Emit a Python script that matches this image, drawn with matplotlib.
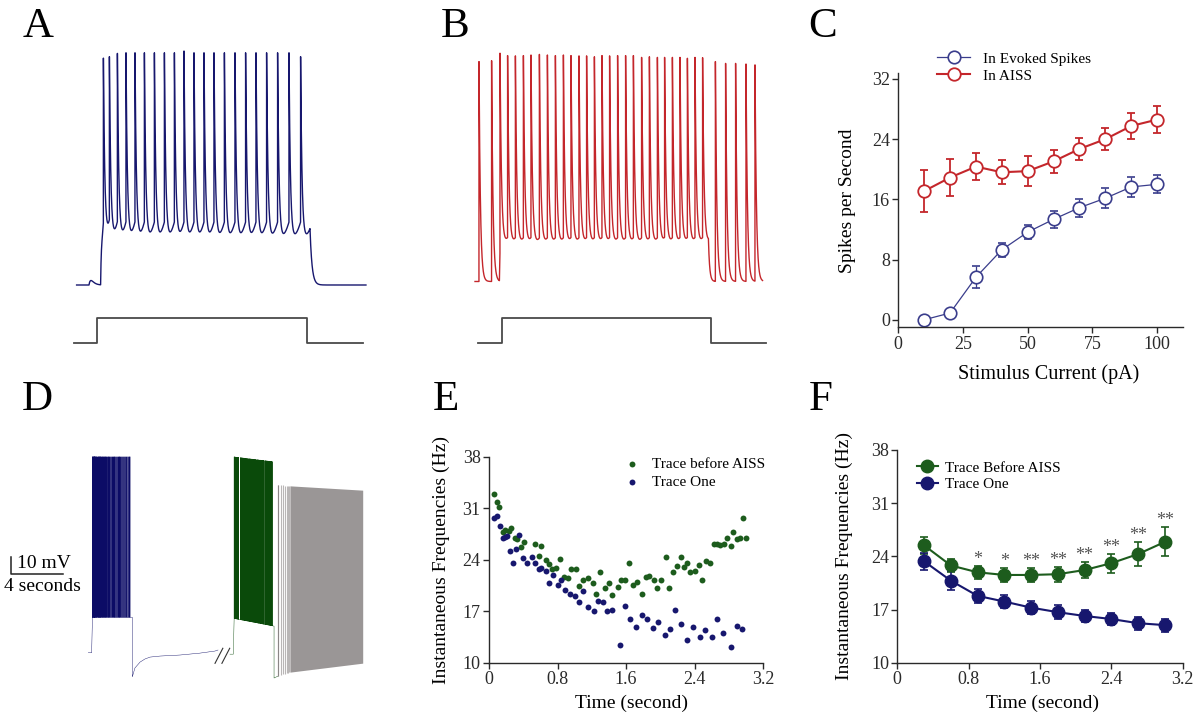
import numpy as np
import matplotlib
matplotlib.use('Agg')
import matplotlib.pyplot as plt

plt.rcParams['font.family'] = ['Liberation Serif', 'DejaVu Serif']

W, H = 1200, 726

# ---------------- data ----------------
# A: evoked firing during the current step (ms, mV)
a_spikes = [167, 197, 237, 280, 325, 372, 422, 472, 522, 570, 620, 670, 720,
            772, 825, 878, 930, 983, 1038, 1095, 1153]
a_peaks = [5.6, 6.1, 7.2, 7.4, 7.4, 7.4, 7.4, 7.4, 7.4, 8.0, 7.4, 7.4, 7.4,
           7.4, 7.4, 7.4, 7.4, 7.4, 7.4, 7.4, 6.1]
a_span = (33, 1480)
a_on, a_off = 153, 1200
a_levels = (-70.0, -55.5, 6.5)     # rest, plateau, ramp
a_stim = (20, 135, 1185, 1465)     # start, on, off, end

# B: firing with AISS before and after the step
b_spikes = [45, 108, 150, 188, 227, 267, 305, 347, 387, 427, 467, 505, 545,
            583, 622, 660, 698, 738, 778, 817, 858, 897, 937, 973, 1012, 1050,
            1087, 1125, 1163, 1227, 1278, 1328, 1380, 1425]
b_peaks = [3.8, 4.1, 6.6, 5.8, 5.7, 5.8, 6.0, 6.2, 6.0, 5.8, 6.0, 5.8, 5.7,
           5.7, 5.4, 5.8, 5.7, 5.8, 5.8, 5.8, 5.2, 5.4, 5.2, 5.2, 5.2, 5.2,
           4.9, 5.2, 5.1, 3.8, 3.2, 3.2, 3.0, 2.7]
b_span = (25, 1463)
b_on, b_off = 147, 1192
b_levels = (-69.5, -57.6, 2.5)
b_stim = (40, 158, 1205, 1480)

# C: spikes per second vs stimulus current
c_current = [10, 20, 30, 40, 50, 60, 70, 80, 90, 100]
c_evoked = [0.0, 0.9, 5.65, 9.3, 11.65, 13.35, 14.9, 16.15, 17.65, 18.0]
c_evoked_err = [0.0, 0.3, 1.45, 0.95, 0.95, 1.15, 1.2, 1.3, 1.35, 1.2]
c_aiss = [17.1, 18.9, 20.35, 19.6, 19.75, 21.05, 22.7, 24.0, 25.75, 26.6]
c_aiss_err = [2.8, 2.5, 1.8, 1.6, 1.95, 1.55, 1.5, 1.5, 1.7, 1.8]

# E: instantaneous frequencies (s, Hz)
e_green_t = [0.06, 0.09, 0.12, 0.16, 0.19, 0.23, 0.26, 0.30, 0.33, 0.37,
             0.41, 0.54, 0.58, 0.61, 0.66, 0.70, 0.74, 0.78, 0.83, 0.87,
             0.92, 0.96, 1.01, 1.05, 1.10, 1.15, 1.21, 1.25, 1.30, 1.35,
             1.40, 1.44, 1.50, 1.54, 1.59, 1.63, 1.68, 1.73, 1.78, 1.83,
             1.87, 1.92, 1.96, 2.01, 2.06, 2.10, 2.15, 2.19, 2.24, 2.27,
             2.31, 2.34, 2.40, 2.45, 2.48, 2.53, 2.58, 2.62, 2.66, 2.69,
             2.74, 2.78, 2.82, 2.85, 2.89, 2.93, 2.96, 3.00]
e_green_f = [32.9, 31.8, 31.1, 27.7, 28.1, 27.9, 28.3, 27.0, 26.8, 25.7,
             26.4, 26.1, 24.5, 25.8, 24.0, 23.4, 22.8, 22.9, 24.1, 21.7,
             21.5, 22.7, 22.7, 20.4, 21.2, 21.5, 20.8, 19.4, 22.3, 20.2,
             20.9, 19.2, 20.3, 21.2, 21.2, 23.6, 20.6, 21.0, 19.4, 21.6,
             21.8, 21.2, 20.2, 21.2, 24.4, 20.2, 22.3, 23.1, 24.4, 23.0,
             23.6, 22.3, 22.5, 23.3, 21.2, 23.8, 23.6, 26.1, 26.1, 26.0,
             26.1, 27.0, 25.9, 27.8, 26.8, 26.9, 29.7, 27.0]
e_blue_t = [0.06, 0.09, 0.13, 0.16, 0.19, 0.21, 0.24, 0.28, 0.32, 0.35,
            0.40, 0.44, 0.50, 0.54, 0.58, 0.61, 0.66, 0.70, 0.75, 0.80,
            0.84, 0.89, 0.95, 1.00, 1.05, 1.10, 1.16, 1.22, 1.27, 1.33,
            1.38, 1.44, 1.53, 1.59, 1.65, 1.72, 1.78, 1.84, 1.91, 1.97,
            2.05, 2.11, 2.17, 2.24, 2.31, 2.38, 2.46, 2.52, 2.60, 2.66,
            2.73, 2.82, 2.89, 2.95]
e_blue_f = [29.7, 29.9, 28.6, 27.0, 27.1, 27.2, 25.2, 23.5, 25.4, 27.4,
            24.2, 23.6, 24.3, 23.5, 22.8, 22.9, 22.5, 20.8, 21.9, 20.5,
            21.2, 19.9, 19.4, 19.0, 18.3, 19.8, 17.6, 17.0, 18.4, 18.3,
            17.0, 17.2, 12.4, 17.7, 15.9, 14.8, 16.5, 15.9, 14.7, 15.5,
            13.8, 14.6, 17.1, 15.3, 13.1, 14.9, 13.5, 14.4, 13.5, 15.9,
            14.1, 12.2, 15.0, 14.6]
e_xticks = [0, 0.8, 1.6, 2.4, 3.2]
e_xticklabels = ['0', '0.8', '1.6', '2.4', '3.2']
e_yticks = [10, 17, 24, 31, 38]

# F: binned means
f_time = [0.3, 0.6, 0.9, 1.2, 1.5, 1.8, 2.1, 2.4, 2.7, 3.0]
f_before = [25.45, 22.8, 21.9, 21.55, 21.55, 21.65, 22.2, 23.1, 24.3, 25.9]
f_before_err = [1.1, 0.85, 0.85, 0.95, 0.95, 1.0, 1.1, 1.25, 1.6, 1.9]
f_one = [23.35, 20.8, 18.8, 18.05, 17.25, 16.65, 16.15, 15.75, 15.2, 14.95]
f_one_err = [1.15, 1.25, 0.95, 0.9, 0.9, 0.9, 0.8, 0.85, 0.85, 0.85]
f_stars = ['', '', '*', '*', '**', '**', '**', '**', '**', '**']

# D: long recording (s, mV); blocks use spike times of panel E
d_blue_pre = ([6.79, 7.05], [-70.0, -70.0])
d_blue_on, d_blue_off = 7.05, 10.18
d_blue_peak = (43.3, 43.3)
d_blue_trough = (-49.5, -49.5)
d_rec_t = [10.18, 10.38, 10.77, 11.15, 11.54, 12.31, 13.85, 15.38, 16.54, 16.77]
d_rec_v = [-83.9, -78.8, -75.4, -73.6, -72.5, -71.9, -71.3, -70.2, -69.0, -68.4]
d_breaks = [16.84, 17.37]
d_green_pre = ([17.69, 17.95], [-70.8, -70.8])
d_green_on, d_green_off = 17.95, 21.08
d_green_peak = (43.3, 40.4)
d_green_trough = (-50.1, -54.6)
d_green_end = -84.6
d_gray_t = [21.38, 22.3, 27.9]
d_gray_top = [26.9, 26.5, 24.0]
d_gray_bottom = [-83.5, -81.2, -76.0]
d_gray_first = [21.38, 21.58, 21.77, 21.92, 22.04, 22.15, 22.23]

navy = '#17176e'
red = '#c4262b'
green = '#1d5c1d'
axis_col = '#2a2a2a'


def px_axes(fig, x0, y0, x1, y1):
    return fig.add_axes([x0 / W, 1 - y1 / H, (x1 - x0) / W, (y1 - y0) / H])


def spiking_trace(span, spikes, peaks, levels, on, off, tau_spk=7.0,
                  tau_on=3.0, tau_off=10.0, bump=None):
    rest, plateau, ramp = levels
    spikes = np.asarray(spikes, float)
    peaks = np.asarray(peaks, float)
    t = np.union1d(np.arange(span[0], span[1], 0.25), spikes)
    v = np.full_like(t, rest)
    stim = (t >= on) & (t < off)
    v[stim] = plateau + (rest - plateau) * np.exp(-(t[stim] - on) / tau_on)
    # slow depolarising ramp between spikes while the step is on
    inside = spikes[(spikes >= on) & (spikes < off)]
    events = np.concatenate([[on], inside])
    nexts = np.concatenate([inside, [inside[-1] + inside[-1] - inside[-2]]])
    k = np.searchsorted(events, t, side='right') - 1
    ok = stim & (k >= 0)
    frac = (t[ok] - events[k[ok]]) / (nexts[k[ok]] - events[k[ok]])
    v[ok] += ramp * np.clip(frac, 0, 1) ** 2
    v_off = v[t < off][-1]
    after = t >= off
    v[after] = rest + (v_off - rest) * np.exp(-(t[after] - off) / tau_off)
    base = v.copy()
    j = np.searchsorted(spikes, t, side='right') - 1
    has = j >= 0
    ts = spikes[j[has]]
    v[has] += (peaks[j[has]] - np.interp(ts, t, base)) * np.exp(-(t[has] - ts) / tau_spk)
    if bump is not None:
        s = t - bump[0]
        pos = s > 0
        v[pos] += bump[1] * (s[pos] / bump[2]) * np.exp(1 - s[pos] / bump[2])
    return t, v


def block(on, off, spikes, peak_env, trough_env):
    ts = on + np.asarray(spikes)
    pk = np.interp(ts, [on, off], peak_env)
    tr = np.interp(ts, [on, off], trough_env)
    xs = np.repeat(ts, 3)
    ys = np.column_stack([tr, pk, tr]).ravel()
    return xs, ys


def style_axes(ax):
    for side in ['top', 'right']:
        ax.spines[side].set_visible(False)
    for side in ['left', 'bottom']:
        ax.spines[side].set_color(axis_col)
        ax.spines[side].set_linewidth(1.0)
    ax.tick_params(direction='out', length=4, width=1.0, pad=2,
                   labelsize=13, colors=axis_col)


fig = plt.figure(figsize=(W / 100, H / 100), dpi=100)

# ---- A ----
ax = px_axes(fig, 70, 40, 370, 300)
t, v = spiking_trace(a_span, a_spikes, a_peaks, a_levels, a_on, a_off,
                     bump=(95, 1.5, 10))
ax.plot(t, v, color=navy, lw=1.0)
ax.set_xlim(0, 1500)
ax.set_ylim(-75, 11.67)
ax.axis('off')

ax = px_axes(fig, 70, 310, 370, 350)
ax.plot([a_stim[0], a_stim[1], a_stim[1], a_stim[2], a_stim[2], a_stim[3]],
        [0, 0, 1, 1, 0, 0], color='#4a4a4a', lw=1.3)
ax.set_xlim(0, 1500)
ax.set_ylim(-0.28, 1.32)
ax.axis('off')

# ---- B ----
ax = px_axes(fig, 470, 40, 770, 300)
t, v = spiking_trace(b_span, b_spikes, b_peaks, b_levels, b_on, b_off,
                     tau_off=6.0)
ax.plot(t, v, color=red, lw=1.0)
ax.set_xlim(0, 1500)
ax.set_ylim(-75.67, 11.0)
ax.axis('off')

ax = px_axes(fig, 470, 310, 770, 350)
ax.plot([b_stim[0], b_stim[1], b_stim[1], b_stim[2], b_stim[2], b_stim[3]],
        [0, 0, 1, 1, 0, 0], color='#4a4a4a', lw=1.3)
ax.set_xlim(0, 1500)
ax.set_ylim(-0.28, 1.32)
ax.axis('off')

# ---- C ----
ax = px_axes(fig, 898.3, 73.3, 1183, 327.3)
eb1 = ax.errorbar(c_current, c_evoked, yerr=c_evoked_err, fmt='-o', color='#3a3d8c',
                  lw=0.9, ms=9, mfc='white', mew=1.2, capsize=3, elinewidth=0.9)
eb2 = ax.errorbar(c_current, c_aiss, yerr=c_aiss_err, fmt='-o', color=red,
                  lw=1.5, ms=9, mfc='white', mew=1.3, capsize=3, elinewidth=1.3)
ax.set_xlim(0, 110)
ax.set_ylim(-1, 32.75)
ax.set_xticks([0, 25, 50, 75, 100])
ax.set_yticks([0, 8, 16, 24, 32])
style_axes(ax)
ax.set_xlabel('Stimulus Current (pA)', fontsize=14.5)
ax.set_ylabel('Spikes per Second', fontsize=14)
ax.xaxis.set_label_coords(0.527, -0.1445)
ax.yaxis.set_label_coords(-0.147, 0.5)
ax.legend([eb1[0], eb2[0]], ['In Evoked Spikes', 'In AISS'], frameon=False,
          fontsize=11, loc='upper left', bbox_to_anchor=(936.7 / W, 1 - 52 / H),
          bbox_transform=fig.transFigure, borderpad=0, borderaxespad=0,
          handlelength=2.2, handletextpad=0.8, labelspacing=0.22)

# ---- D ----
ax = px_axes(fig, 0, 440, 410, 700)
bx, by = block(d_blue_on, d_blue_off, e_blue_t, d_blue_peak, d_blue_trough)
ax.plot(np.concatenate([d_blue_pre[0], bx, [d_blue_off], d_rec_t]),
        np.concatenate([d_blue_pre[1], by, [d_blue_trough[1]], d_rec_v]),
        color='#0c0c66', lw=0.3)
gx, gy = block(d_green_on, d_green_off, e_green_t, d_green_peak, d_green_trough)
ax.plot(np.concatenate([d_green_pre[0], gx, [d_green_off, d_green_off, d_gray_t[0]]]),
        np.concatenate([d_green_pre[1], gy, [d_green_trough[1], d_green_end, d_gray_bottom[0]]]),
        color='#0a4a0a', lw=0.3)
for tb in d_breaks:
    ax.plot([tb - 0.3, tb + 0.3], [-76.1, -67.4], color='#333333', lw=0.8)
first_top = np.interp(d_gray_first, d_gray_t, d_gray_top)
first_bot = np.interp(d_gray_first, d_gray_t, d_gray_bottom)
ax.vlines(d_gray_first, first_bot, first_top, color='#b9b6b6', lw=0.8)
ax.vlines(d_gray_first[0], first_bot[0], first_top[0], color='#8a8686', lw=0.8)
ax.fill_between(d_gray_t[1:], d_gray_bottom[1:], d_gray_top[1:], color='#9a9696', lw=0)
# scale bar
ax.plot([0.846, 0.846, 4.846], [-14.5, -24.5, -24.5], color='#222222', lw=1.1)
ax.text(1.3, -18.5, '10 mV', fontsize=14, ha='left', va='center')
ax.text(3.23, -31.8, '4 seconds', fontsize=14, ha='center', va='center')
ax.set_xlim(0, 410 / 13)
ax.set_ylim(-97.3, 53.0)
ax.axis('off')

# ---- E ----
ax = px_axes(fig, 489, 456.7, 763.3, 662.7)
ax.scatter(e_green_t, e_green_f, s=18, color=green, lw=0, label='Trace before AISS', zorder=3)
ax.scatter(e_blue_t, e_blue_f, s=18, color=navy, lw=0, label='Trace One', zorder=3)
ax.set_xlim(0, 3.2)
ax.set_ylim(10, 38)
ax.set_xticks(e_xticks)
ax.set_xticklabels(e_xticklabels)
ax.set_yticks(e_yticks)
style_axes(ax)
ax.set_xlabel('Time (second)', fontsize=14)
ax.set_ylabel('Instantaneous Frequencies (Hz)', fontsize=14)
ax.xaxis.set_label_coords(0.52, -0.157)
ax.yaxis.set_label_coords(-0.142, 0.5)
ax.legend(frameon=False, fontsize=11, scatterpoints=1, loc='upper left',
          bbox_to_anchor=(624.4 / W, 1 - 457 / H), bbox_transform=fig.transFigure,
          borderpad=0, borderaxespad=0, handlelength=1.0, handletextpad=0.78,
          labelspacing=0.33)

# ---- F ----
ax = px_axes(fig, 897.3, 450, 1182.7, 662.7)
eb1 = ax.errorbar(f_time, f_before, yerr=f_before_err, fmt='-o', color=green,
                  lw=1.5, ms=9, capsize=3, elinewidth=1.2, capthick=1.2)
eb2 = ax.errorbar(f_time, f_one, yerr=f_one_err, fmt='-o', color=navy,
                  lw=1.5, ms=9, capsize=3, elinewidth=1.2, capthick=1.2)
for x, y, e, s in zip(f_time, f_before, f_before_err, f_stars):
    if s:
        ax.annotate(s, (x, y + e), xytext=(0, 1.5), textcoords='offset points',
                    ha='center', va='baseline', fontsize=13, color='#555555')
ax.set_xlim(0, 3.2)
ax.set_ylim(10, 38)
ax.set_xticks(e_xticks)
ax.set_xticklabels(e_xticklabels)
ax.set_yticks(e_yticks)
style_axes(ax)
ax.set_xlabel('Time (second)', fontsize=14)
ax.set_ylabel('Instantaneous Frequencies (Hz)', fontsize=14)
ax.xaxis.set_label_coords(0.509, -0.152)
ax.yaxis.set_label_coords(-0.155, 0.5)
ax.legend([eb1[0], eb2[0]], ['Trace Before AISS', 'Trace One'], frameon=False,
          fontsize=11, loc='upper left', bbox_to_anchor=(916.7 / W, 1 - 461 / H),
          bbox_transform=fig.transFigure, borderpad=0, borderaxespad=0,
          handlelength=1.4, handletextpad=0.44, labelspacing=0.18)

# panel letters
for letter, x, y in [('A', 38, 37), ('B', 455, 37), ('C', 823, 37),
                     ('D', 37, 410), ('E', 445.5, 410), ('F', 821, 410)]:
    fig.text(x / W, 1 - y / H, letter, fontsize=31, ha='center', va='baseline')

fig.savefig('out.png', dpi=100)
